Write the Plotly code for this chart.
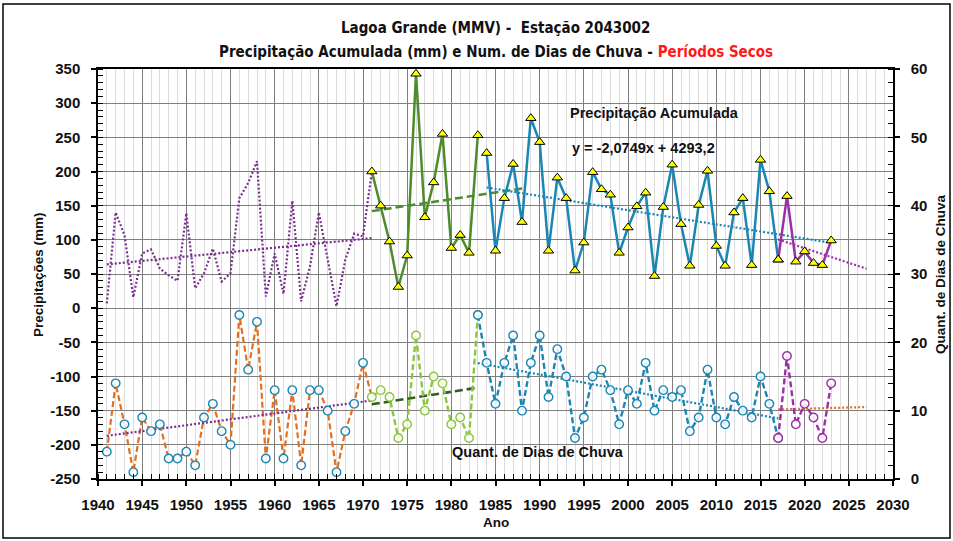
import numpy as np
import plotly.graph_objects as go

# ---------------- data ----------------
YEARS_P1 = list(range(1941, 1972))
PREC_P1 = [7, 140, 107, 16, 80, 86, 58, 48, 40, 139, 29, 51, 87, 39, 51, 161, 183, 215, 17, 80,
           21, 157, 10, 61, 140, 71, 3, 71, 109, 105, 200]
YEARS_P2 = list(range(1971, 1984))
PREC_P2 = [200, 150, 97.5, 31, 77, 343, 133, 184, 255, 88, 107, 81, 253]
YEARS_P3 = list(range(1984, 2018))
PREC_P3 = [227, 84, 161, 211, 126, 278, 243, 84, 191, 161, 55, 96, 199, 174, 166, 81, 118, 149,
           169, 47, 148, 210, 123, 62, 151, 201, 91, 62, 140, 161, 63, 217, 171, 71]
YEARS_P4 = list(range(2017, 2024))
PREC_P4 = [71, 164, 68, 83, 66, 63, 99]

DAYS_Y1 = list(range(1941, 1972))
DAYS_1 = [4, 14, 8, 1, 9, 7, 8, 3, 3, 4, 2, 9, 11, 7, 5, 24, 16, 23, 3, 13, 3, 13, 2, 13, 13, 10,
          1, 7, 11, 17, 12]
DAYS_Y2 = list(range(1971, 1984))
DAYS_2 = [12, 13, 12, 6, 8, 21, 10, 15, 14, 8, 9, 6, 24]
DAYS_Y3 = list(range(1983, 2018))
DAYS_3 = [24, 17, 11, 17, 21, 10, 17, 21, 12, 19, 15, 6, 9, 15, 16, 13, 8, 13, 11, 17, 10, 13,
          12, 13, 7, 9, 16, 9, 8, 12, 10, 9, 15, 11, 6]
DAYS_Y4 = list(range(2017, 2024))
DAYS_4 = [6, 18, 8, 11, 9, 6, 14]

# trend line (slope, intercept) and its year span
P2_TREND_COEF = [1.95, 142 - 1.95 * 1971]
P2_TREND_SPAN = [1971, 1988]
# equation printed on the chart
P3_TREND_COEF = [-2.0749, 4293.2]
P3_TREND_SPAN = [1984, 2023]

X_TICKS = list(range(1940, 2031, 5))
LEFT_TICKS = list(range(-250, 351, 50))
RIGHT_TICKS = list(range(0, 61, 10))

# ---------------- colours ----------------
PURPLE = "#7A2E8E"
PURPLE2 = "#9B2FA6"
GREEN = "#4C8C2B"
LGREEN = "#8CC63F"
DGREEN = "#2F5F1F"
BLUE = "#1B86B4"
ORANGE = "#E2701F"

FONT = "Liberation Sans, Arial, sans-serif"
TFONT = "Liberation Sans Narrow, DejaVu Sans Condensed, Arial Narrow, sans-serif"


def fit(xs, ys):
    s, b = np.polyfit(xs, ys, 1)
    return s, b


def line_over(coef, span):
    xs = np.array(span, dtype=float)
    return xs, coef[0] * xs + coef[1]


fig = go.Figure()


def add(x, y, color, dash, width=2.4, yaxis="y", mode="lines", marker=None):
    fig.add_trace(go.Scatter(x=list(x), y=list(y), mode=mode, yaxis=yaxis,
                             line=dict(color=color, dash=dash, width=width),
                             marker=marker, showlegend=False, hoverinfo="skip"))


# ---- precipitation (left axis) ----
add(YEARS_P1, PREC_P1, PURPLE, "2px,2px", 2.2)
c = fit(YEARS_P1, PREC_P1)
add(*line_over(c, [1941, 1971]), PURPLE, "2px,2px", 2.2)

add(*line_over(P2_TREND_COEF, P2_TREND_SPAN), GREEN, "8px,4px", 2.5)
add(*line_over(P3_TREND_COEF, P3_TREND_SPAN), BLUE, "2px,2px", 2.2)
c = fit(YEARS_P4, PREC_P4)
add(*line_over(c, [2017, 2027]), PURPLE2, "2px,2px", 2.2)

tri = dict(symbol="triangle-up", size=9, color="#FFFF00", line=dict(color="black", width=1))
add(YEARS_P2, PREC_P2, GREEN, "solid", 2.5, mode="lines+markers", marker=tri)
add(YEARS_P3, PREC_P3, BLUE, "solid", 2.5, mode="lines+markers", marker=tri)
add(YEARS_P4, PREC_P4, PURPLE2, "solid", 2.5, mode="lines+markers", marker=tri)

# ---- rainy days (right axis) ----
add(DAYS_Y1, DAYS_1, ORANGE, "6px,3px", 2.2, yaxis="y2")
c = fit(DAYS_Y1, DAYS_1)
add(*line_over(c, [1941, 1971]), PURPLE, "2px,2px", 2.2, yaxis="y2")
c = fit(DAYS_Y2, DAYS_2)
add(*line_over(c, [1971, 1983]), DGREEN, "8px,4px", 2.6, yaxis="y2")
c = fit(DAYS_Y3, DAYS_3)
add(*line_over(c, [1983, 2017]), BLUE, "2px,2px", 2.2, yaxis="y2")
c = fit(DAYS_Y4, DAYS_4)
add(*line_over(c, [2017, 2027]), ORANGE, "2px,2px", 2.2, yaxis="y2")


def circ(color):
    return dict(symbol="circle", size=8.5, color="rgba(255,255,255,0.85)", line=dict(color=color, width=1.4))


add(DAYS_Y1[:-1], DAYS_1[:-1], ORANGE, "6px,3px", 2.2, yaxis="y2", mode="markers", marker=circ(BLUE))
add(DAYS_Y2, DAYS_2, LGREEN, "6px,3px", 2.4, yaxis="y2", mode="lines+markers", marker=circ(LGREEN))
add(DAYS_Y3, DAYS_3, BLUE, "6px,3px", 2.4, yaxis="y2", mode="lines+markers", marker=circ(BLUE))
add(DAYS_Y4, DAYS_4, PURPLE2, "6px,3px", 2.4, yaxis="y2", mode="lines+markers", marker=circ(PURPLE2))

# ---------------- layout ----------------
tickfont = dict(family=FONT, size=15, color="#111111")


def bold(vals):
    return ["<b>%s</b>" % v for v in vals]


fig.update_layout(
    width=953, height=541,
    margin=dict(l=98, r=60, t=69, b=62),
    paper_bgcolor="white", plot_bgcolor="white",
    xaxis=dict(
        range=[1940, 2030], tickvals=X_TICKS, ticktext=bold(X_TICKS),
        showgrid=True, gridcolor="#7f7f7f", gridwidth=1.4,
        showline=True, linecolor="black", linewidth=1.5, mirror=True,
        ticks="outside", ticklen=5, tickcolor="black", tickwidth=1.5,
        minor=dict(dtick=1, tick0=1940, showgrid=True, gridcolor="#dcdcdc", gridwidth=1,
                   ticks="inside", ticklen=5, tickcolor="black", tickwidth=1.2),
        tickfont=tickfont, ticklabelstandoff=6,
        zeroline=False,
    ),
    yaxis=dict(
        range=[-250, 350], tickvals=LEFT_TICKS, ticktext=bold(LEFT_TICKS),
        showgrid=True, gridcolor="#7f7f7f", gridwidth=1.4,
        showline=True, linecolor="black", linewidth=1.5,
        ticks="outside", ticklen=5, tickcolor="black", tickwidth=1.5,
        minor=dict(dtick=10, ticks="inside", ticklen=5, tickcolor="black", tickwidth=1.2, showgrid=False),
        tickfont=tickfont, ticklabelstandoff=8,
        zeroline=False,
    ),
    yaxis2=dict(
        range=[0, 60], tickvals=RIGHT_TICKS, ticktext=bold(RIGHT_TICKS), overlaying="y", side="right",
        showgrid=False, showline=True, linecolor="black", linewidth=1.5,
        ticks="outside", ticklen=5, tickcolor="black", tickwidth=1.5,
        minor=dict(dtick=2, ticks="inside", ticklen=5, tickcolor="black", tickwidth=1.2, showgrid=False),
        tickfont=tickfont, ticklabelstandoff=8,
        zeroline=False,
    ),
)

ann_font = dict(family=FONT, size=14.5, color="#111111")
fig.add_annotation(x=0.5, xref="paper", y=1.10, yref="paper", showarrow=False,
                   text="<b>Lagoa Grande (MMV) -  Estação 2043002</b>",
                   font=dict(family=TFONT, size=15, color="#111111"),
                   xanchor="center", yanchor="middle")
fig.add_annotation(x=0.5, xref="paper", y=1.0415, yref="paper", showarrow=False,
                   text="<b>Precipitação Acumulada (mm) e Num. de Dias de Chuva - "
                        "<span style='color:#FF1A1A'>Períodos Secos</span></b>",
                   font=dict(family=TFONT, size=15, color="#111111"),
                   xanchor="center", yanchor="middle")
fig.add_annotation(x=2003, y=286, showarrow=False, text="<b>Precipitação Acumulada</b>",
                   font=ann_font, xanchor="center", yanchor="middle")
fig.add_annotation(x=2001.7, y=234, showarrow=False, text="<b>y = -2,0749x + 4293,2</b>",
                   font=ann_font, xanchor="center", yanchor="middle")
fig.add_annotation(x=1989.8, y=-210, showarrow=False, text="<b>Quant. de Dias de Chuva</b>",
                   font=ann_font, xanchor="center", yanchor="middle")

# axis titles
title_font = dict(family=FONT, size=13.5, color="#111111")
fig.add_annotation(x=-0.0755, xref="paper", y=0.5, yref="paper", showarrow=False, textangle=-90,
                   text="<b>Precipitações (mm)</b>", font=title_font,
                   xanchor="center", yanchor="middle")
fig.add_annotation(x=1.059, xref="paper", y=0.5, yref="paper", showarrow=False, textangle=-90,
                   text="<b>Quant. de Dias de Chuva</b>", font=title_font,
                   xanchor="center", yanchor="middle")
fig.add_annotation(x=0.5, xref="paper", y=-0.105, yref="paper", showarrow=False,
                   text="<b>Ano</b>", font=title_font, xanchor="center", yanchor="middle")

# outer frame
fig.add_shape(type="rect", xref="paper", yref="paper", layer="above",
              x0=-0.1195, x1=1.0717, y0=-0.1439, y1=1.1585,
              line=dict(color="black", width=1.5))

fig.write_html("out.html", config={"displayModeBar": False},
               post_script="document.body.style.margin='0';document.body.style.overflow='hidden';")
